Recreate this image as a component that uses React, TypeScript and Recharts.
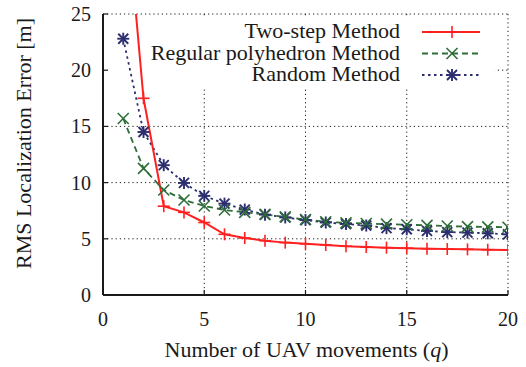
import React from 'react';
import { LineChart, Line, XAxis, YAxis, CartesianGrid, Legend, ReferenceArea } from 'recharts';

const qValues = [1, 2, 3, 4, 5, 6, 7, 8, 9, 10, 11, 12, 13, 14, 15, 16, 17, 18, 19, 20];
const twoStep = [37.7, 17.5, 7.9, 7.35, 6.45, 5.4, 5.07, 4.83, 4.66, 4.55, 4.45, 4.34, 4.27, 4.21, 4.17, 4.12, 4.09, 4.06, 4.03, 4.0];
const regular = [15.7, 11.27, 9.34, 8.45, 7.92, 7.56, 7.35, 7.17, 6.95, 6.72, 6.52, 6.42, 6.36, 6.3, 6.25, 6.2, 6.14, 6.08, 6.06, 6.03];
const random = [22.8, 14.5, 11.55, 9.97, 8.82, 8.13, 7.6, 7.15, 6.9, 6.67, 6.45, 6.32, 6.18, 5.95, 5.85, 5.7, 5.6, 5.55, 5.49, 5.4];
const xTicks = [0, 5, 10, 15, 20];
const yTicks = [0, 5, 10, 15, 20, 25];
const seriesNames = ['Two-step Method', 'Regular polyhedron Method', 'Random Method'];
const xLabel = 'Number of UAV movements (';
const xLabelVar = 'q';
const yLabel = 'RMS Localization Error [m]';

const data = qValues.map((q, i) => ({ q, twoStep: twoStep[i], regular: regular[i], random: random[i] }));

const FONT = 'Liberation Serif, Tinos, Times New Roman, Times, serif';
const RED = '#ff2020';
const GREEN = '#2e6e38';
const BLUE = '#2c2e6e';
const INK = '#1a1a1a';
const txt = (size: number) => ({ fontFamily: FONT, fontSize: size });

const Plus = ({ cx, cy, color, r = 6, w = 1.6 }: any) => (
  <g>
    <line x1={cx - r} y1={cy} x2={cx + r} y2={cy} stroke={color} strokeWidth={w} />
    <line x1={cx} y1={cy - r} x2={cx} y2={cy + r} stroke={color} strokeWidth={w} />
  </g>
);
const Cross = ({ cx, cy, color, r = 5.5, w = 1.6 }: any) => (
  <g>
    <line x1={cx - r} y1={cy - r} x2={cx + r} y2={cy + r} stroke={color} strokeWidth={w} />
    <line x1={cx - r} y1={cy + r} x2={cx + r} y2={cy - r} stroke={color} strokeWidth={w} />
  </g>
);
const Star = ({ cx, cy, color, w = 1.9 }: any) => (
  <g>
    <Plus cx={cx} cy={cy} color={color} r={6} w={w} />
    <Cross cx={cx} cy={cy} color={color} r={5} w={w} />
  </g>
);

const mkDot = (Shape: any, color: string) => (props: any) => {
  const { cx, cy, key, index } = props;
  if (cx == null || cy == null) return <g key={key ?? index} />;
  return (
    <g key={key ?? index}>
      <Shape cx={cx} cy={cy} color={color} />
    </g>
  );
};

const BottomTick = (props: any) => {
  const { x, y, payload } = props;
  return (
    <g>
      <line x1={x} y1={y} x2={x} y2={y - 5} stroke={INK} strokeWidth={1.2} />
      <text x={x} y={y + 31} textAnchor="middle" style={txt(20)} fill={INK}>
        {payload.value}
      </text>
    </g>
  );
};
const LeftTick = (props: any) => {
  const { x, y, payload } = props;
  return (
    <g>
      <line x1={x} y1={y} x2={x + 5} y2={y} stroke={INK} strokeWidth={1.2} />
      <text x={x - 12} y={y + 7} textAnchor="end" style={txt(20)} fill={INK}>
        {payload.value}
      </text>
    </g>
  );
};
const TopTick = (props: any) => {
  const { x, y } = props;
  return <line x1={x} y1={y} x2={x} y2={y + 5} stroke={INK} strokeWidth={1.2} />;
};
const RightTick = (props: any) => {
  const { x, y } = props;
  return <line x1={x} y1={y} x2={x - 5} y2={y} stroke={INK} strokeWidth={1.2} />;
};

const XLabelContent = (props: any) => {
  const vb = props.viewBox || { x: 103, y: 295, width: 405 };
  return (
    <text x={vb.x + vb.width / 2 + 1} y={vb.y + 62} textAnchor="middle" style={txt(22)} fill={INK}>
      {xLabel}
      <tspan fontStyle="italic">{xLabelVar}</tspan>)
    </text>
  );
};
const YLabelContent = (props: any) => {
  const vb = props.viewBox || { x: 43, y: 14, width: 60, height: 281 };
  const cx = 31;
  const cy = vb.y + vb.height / 2 - 11;
  return (
    <text x={cx} y={cy} transform={`rotate(-90 ${cx} ${cy})`} textAnchor="middle" style={txt(22)} fill={INK}>
      {yLabel}
    </text>
  );
};

const legendRows = [
  { name: seriesNames[0], color: RED, dash: undefined, Shape: Plus },
  { name: seriesNames[1], color: GREEN, dash: '6 4', Shape: Cross },
  { name: seriesNames[2], color: BLUE, dash: '2.5 3.5', Shape: Star },
];

const LegendContent = () => (
  <svg width={360} height={76} style={{ overflow: 'visible', display: 'block' }}>
    {legendRows.map((r, i) => {
      const cy = 18 + i * 21.5;
      return (
        <g key={r.name}>
          <text x={254} y={cy + 6} textAnchor="end" style={txt(22)} fill={INK}>
            {r.name}
          </text>
          <line x1={276} y1={cy} x2={334} y2={cy} stroke={r.color} strokeWidth={i === 0 ? 2 : 1.8} strokeDasharray={r.dash} />
          <r.Shape cx={306} cy={cy} color={r.color} />
        </g>
      );
    })}
  </svg>
);

export default function App() {
  return (
    <div style={{ position: 'absolute', left: 0, top: 0, background: '#fff' }}>
      <LineChart width={526} height={367} data={data} margin={{ top: 14, right: 18, bottom: 32, left: 43 }}>
        <CartesianGrid stroke={INK} strokeWidth={1} strokeDasharray="1.2 3" />
        <ReferenceArea x1={0.2} x2={19.35} y1={18.35} y2={24.75} fill="#ffffff" fillOpacity={1} stroke="none" ifOverflow="visible" />
        <XAxis
          dataKey="q"
          type="number"
          domain={[0, 20]}
          ticks={xTicks}
          allowDataOverflow
          height={40}
          tickSize={0}
          tickMargin={0}
          tickLine={false}
          axisLine={{ stroke: INK, strokeWidth: 2 }}
          tick={BottomTick}
          interval={0}
          label={{ content: XLabelContent }}
        />
        <XAxis
          xAxisId="top"
          orientation="top"
          type="number"
          domain={[0, 20]}
          ticks={xTicks}
          height={0}
          tickSize={0}
          tickMargin={0}
          tickLine={false}
          axisLine={{ stroke: INK, strokeWidth: 2 }}
          tick={TopTick}
          interval={0}
        />
        <YAxis
          type="number"
          domain={[0, 25]}
          ticks={yTicks}
          allowDataOverflow
          width={60}
          tickSize={0}
          tickMargin={0}
          tickLine={false}
          axisLine={{ stroke: INK, strokeWidth: 2 }}
          tick={LeftTick}
          interval={0}
          label={{ content: YLabelContent }}
        />
        <YAxis
          yAxisId="right"
          orientation="right"
          type="number"
          domain={[0, 25]}
          ticks={yTicks}
          width={0}
          tickSize={0}
          tickMargin={0}
          tickLine={false}
          axisLine={{ stroke: INK, strokeWidth: 2 }}
          tick={RightTick}
          interval={0}
        />
        <Line
          type="linear"
          dataKey="random"
          name={seriesNames[2]}
          stroke={BLUE}
          strokeWidth={1.8}
          strokeDasharray="2.5 3.5"
          dot={mkDot(Star, BLUE)}
          isAnimationActive={false}
        />
        <Line
          type="linear"
          dataKey="regular"
          name={seriesNames[1]}
          stroke={GREEN}
          strokeWidth={1.8}
          strokeDasharray="6 4"
          dot={mkDot(Cross, GREEN)}
          isAnimationActive={false}
        />
        <Line
          type="linear"
          dataKey="twoStep"
          name={seriesNames[0]}
          stroke={RED}
          strokeWidth={2}
          dot={mkDot(Plus, RED)}
          isAnimationActive={false}
        />
        <Legend
          layout="vertical"
          align="center"
          verticalAlign="middle"
          content={LegendContent}
          wrapperStyle={{ position: 'absolute', left: 146, top: 14, width: 360, height: 76 }}
        />
      </LineChart>
    </div>
  );
}
